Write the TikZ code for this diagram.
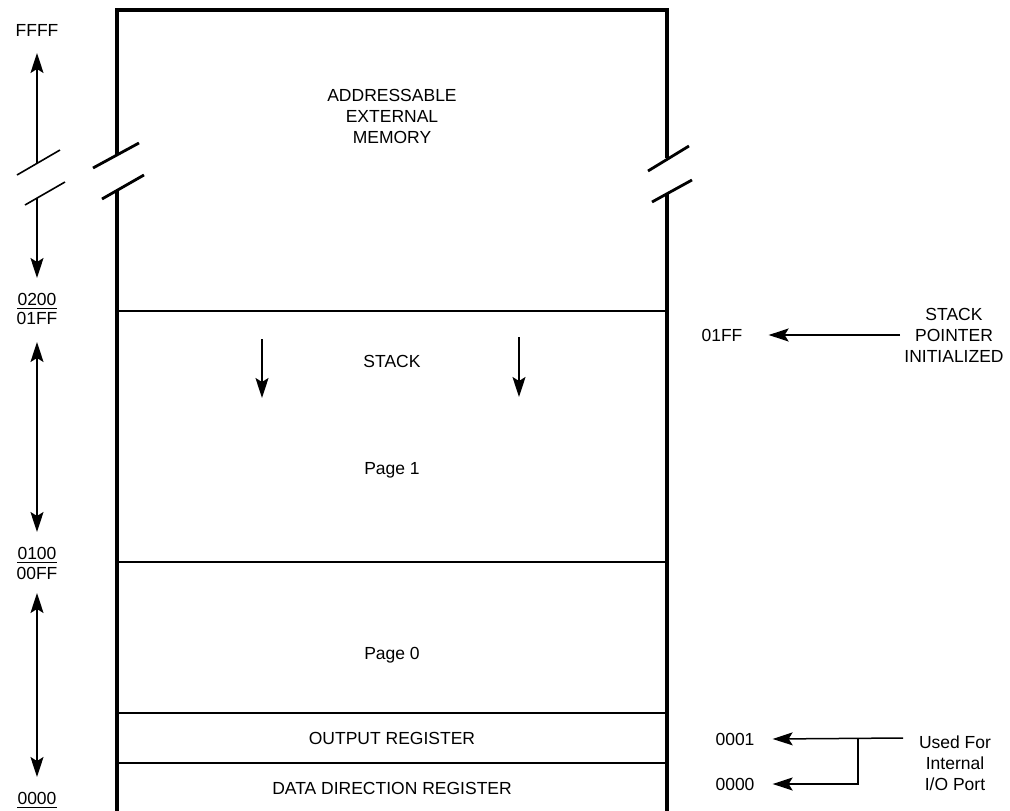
\documentclass[tikz,border=0pt]{standalone}
\usepackage{fontspec}
\setmainfont{Liberation Sans}
\usetikzlibrary{arrows.meta}

\begin{document}
\begin{tikzpicture}[
  x=1pt, y=-1pt,
  font=\fontsize{17.5}{21}\selectfont,
  lbl/.style={inner sep=0pt, align=center},
  capline/.style={text height=12.6pt, text depth=0pt},
  wall/.style={line width=3.4pt},
  divider/.style={line width=2.8pt},
  brk/.style={line width=2.8pt},
  thinbrk/.style={line width=1.6pt},
  bar/.style={line width=1.4pt},
  arr/.style={line width=1.5pt, -{Stealth[length=20pt, width=13pt, inset=4pt]}},
  dblarr/.style={line width=1.5pt,
    {Stealth[length=20pt, width=13pt, inset=4pt]}-{Stealth[length=20pt, width=13pt, inset=4pt]}}
]
  \useasboundingbox (0,0) rectangle (1010,811);

  % memory block
  \draw[wall] (117,155) -- (117,10) -- (667,10) -- (667,158);
  \draw[wall] (117,190) -- (117,815);
  \draw[wall] (667,194) -- (667,815);
  \draw[brk] (93,168) -- (139,143);
  \draw[brk] (102,199) -- (144,175);
  \draw[brk] (648,171) -- (689,146);
  \draw[brk] (652,202) -- (692,180);
  \foreach \y in {311,562,713,763}
    \draw[divider] (117,\y) -- (667,\y);

  \node[lbl] (mem) at (392,116) {ADDRESSABLE\\EXTERNAL\\MEMORY};
  \node[lbl, capline] (stack) at (392,361) {STACK};
  \node[lbl] (pg1) at (392,470) {Page 1};
  \node[lbl] (pg0) at (392,655) {Page 0};
  \node[lbl, capline] (outreg) at (392,738) {OUTPUT REGISTER};
  \node[lbl, capline] (ddr) at (392,788) {DATA DIRECTION REGISTER};

  % stack growth
  \coordinate (sgl) at (262,339);
  \coordinate (sgle) at (262,398);
  \coordinate (sgr) at (519,337);
  \coordinate (sgre) at (519,397);
  \draw[arr] (sgl) -- (sgle);
  \draw[arr] (sgr) -- (sgre);

  % address scale
  \node[lbl, capline] (ffff) at (37,30) {FFFF};
  \node[lbl, capline] (a0200) at (37,299) {0200};
  \node[lbl, capline] (a01ff) at (37,318) {01FF};
  \node[lbl, capline] (a0100) at (37,553) {0100};
  \node[lbl, capline] (a00ff) at (37,573) {00FF};
  \node[lbl, capline] (a0000) at (37,798) {0000};
  \foreach \n in {a0200,a0100,a0000}
    \draw[bar] ([yshift=-3pt]\n.south west) -- ([yshift=-3pt]\n.south east);

  \coordinate (hiup) at (37,53);
  \coordinate (hibrk) at (37,163);
  \coordinate (lobrk) at (37,198);
  \coordinate (lodn) at (37,278);
  \draw[arr] (hibrk) -- (hiup);
  \draw[arr] (lobrk) -- (lodn);
  \draw[thinbrk] (17,175) -- (60,150);
  \draw[thinbrk] (25,205) -- (65,182);

  \coordinate (pg1top) at (37,342);
  \coordinate (pg1bot) at (37,532);
  \coordinate (pg0top) at (37,593);
  \coordinate (pg0bot) at (37,777);
  \draw[dblarr] (pg1top) -- (pg1bot);
  \draw[dblarr] (pg0top) -- (pg0bot);

  % right-hand notes
  \node[lbl, capline] (sp) at (722,335) {01FF};
  \node[lbl] (spinit) at (954,335) {STACK\\POINTER\\INITIALIZED};
  \draw[arr] ([xshift=-4pt]spinit.west) -- ([xshift=26pt]sp.east);

  \node[lbl, capline] (p1) at (735,739) {0001};
  \node[lbl, capline] (p0) at (735,784) {0000};
  \node[lbl] (io) at (955,763) {Used For\\Internal\\I/O Port};
  \coordinate (iostart) at (903,738);
  \coordinate (jn) at (858,738);
  \draw[arr] (iostart) -- ([xshift=18pt]p1.east);
  \draw[arr] (jn) |- ([xshift=18pt]p0.east);
\end{tikzpicture}
\end{document}
